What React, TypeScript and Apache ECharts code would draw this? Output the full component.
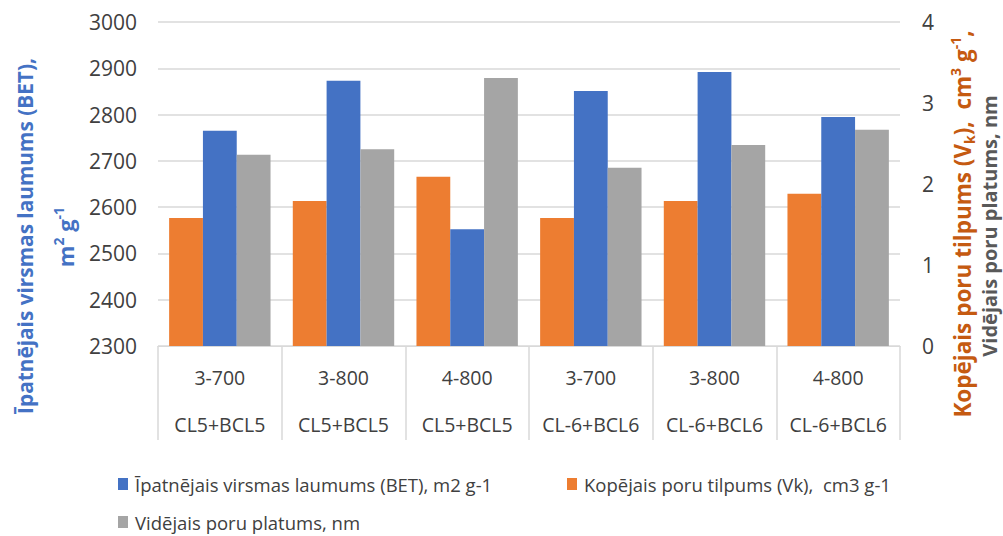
import React, { useEffect, useRef } from "react";
import * as echarts from "echarts";

const samples = ["3-700", "3-800", "4-800", "3-700", "3-800", "4-800"];
const groups = ["CL5+BCL5", "CL5+BCL5", "CL5+BCL5", "CL-6+BCL6", "CL-6+BCL6", "CL-6+BCL6"];
const betValues = [2765, 2873, 2552, 2851, 2892, 2795];
const volumeValues = [1.58, 1.79, 2.09, 1.58, 1.79, 1.88];
const widthValues = [2.36, 2.43, 3.31, 2.2, 2.48, 2.67];

const betName = "Īpatnējais virsmas laumums (BET), m2 g-1";
const volumeName = "Kopējais poru tilpums (Vk),  cm3 g-1";
const widthName = "Vidējais poru platums, nm";

const leftMin = 2300;
const leftMax = 3000;
const leftStep = 100;
const rightMin = 0;
const rightMax = 4;
const rightStep = 1;

const BLUE = "#4472C4";
const ORANGE = "#ED7D31";
const TITLE_ORANGE = "#C55A11";
const GRAY = "#A5A5A5";
const TEXT = "#404040";
const LINE = "#D9D9D9";
const FONT = "'Open Sans', sans-serif";

export default function App() {
  const ref = useRef<HTMLDivElement>(null);

  useEffect(() => {
    if (!ref.current) return;
    const chart = echarts.init(ref.current, undefined, { renderer: "svg" });
    const legendText = { color: TEXT, fontSize: 18.5, fontFamily: FONT, lineHeight: 20, padding: [0, 0, 0, 2] };
    const legendBase = { icon: "rect", itemWidth: 10, itemHeight: 12, itemGap: 0, padding: 0, textStyle: legendText };
    const bold = { fontFamily: FONT, fontWeight: "bold" as const };

    chart.setOption({
      animation: false,
      grid: { left: 158, right: 103, top: 22, bottom: 190, containLabel: false },
      legend: [
        { ...legendBase, left: 118, top: 474, data: [betName] },
        { ...legendBase, left: 567, top: 474, data: [volumeName] },
        { ...legendBase, left: 118, top: 512, data: [widthName] },
      ],
      xAxis: {
        type: "category",
        data: samples.map((s, i) => s + "|" + groups[i]),
        axisLine: { show: true, lineStyle: { color: LINE, width: 1 } },
        axisTick: { show: true, length: 94, interval: 0, lineStyle: { color: LINE, width: 1.5 } },
        axisLabel: {
          interval: 0,
          margin: 8,
          formatter: (v: string) => {
            const [a, b] = v.split("|");
            return `{a|${a}}\n{b|${b}}`;
          },
          rich: {
            a: { fontSize: 19.5, fontFamily: FONT, color: TEXT, lineHeight: 47 },
            b: { fontSize: 19.5, fontFamily: FONT, color: TEXT, lineHeight: 47 },
          },
        },
      },
      yAxis: [
        {
          type: "value",
          min: leftMin,
          max: leftMax,
          interval: leftStep,
          axisLine: { show: false },
          axisTick: { show: false },
          axisLabel: { color: TEXT, fontSize: 21, fontFamily: FONT, margin: 21, formatter: (v: number) => String(v) },
          splitLine: { show: true, lineStyle: { color: LINE, width: 1.5 } },
        },
        {
          type: "value",
          min: rightMin,
          max: rightMax,
          interval: rightStep,
          axisLine: { show: false },
          axisTick: { show: false },
          axisLabel: { color: TEXT, fontSize: 21, fontFamily: FONT, margin: 22, formatter: (v: number) => String(v) },
          splitLine: { show: false },
        },
      ],
      series: [
        {
          name: volumeName,
          type: "bar",
          yAxisIndex: 1,
          data: volumeValues,
          itemStyle: { color: ORANGE },
          barGap: "0%",
          barCategoryGap: "18%",
        },
        {
          name: betName,
          type: "bar",
          yAxisIndex: 0,
          data: betValues,
          itemStyle: { color: BLUE },
          barGap: "0%",
          barCategoryGap: "18%",
        },
        {
          name: widthName,
          type: "bar",
          yAxisIndex: 1,
          data: widthValues,
          itemStyle: { color: GRAY },
          barGap: "0%",
          barCategoryGap: "18%",
        },
      ],
      graphic: [
        {
          type: "text",
          x: 25,
          y: 236,
          rotation: Math.PI / 2,
          style: {
            text: "Īpatnējais virsmas laumums (BET),",
            ...bold,
            fontSize: 20.8,
            fill: BLUE,
            align: "center",
            verticalAlign: "middle",
          },
        },
        {
          type: "text",
          x: 65,
          y: 237,
          rotation: Math.PI / 2,
          style: {
            text: "{n|m}{s|2}{n| g}{s|-1}",
            align: "center",
            verticalAlign: "middle",
            rich: {
              n: { ...bold, fontSize: 22, fill: BLUE, color: BLUE, lineHeight: 28 },
              s: { ...bold, fontSize: 14, fill: BLUE, color: BLUE, verticalAlign: "top", lineHeight: 28 },
            },
          },
        },
        {
          type: "text",
          x: 962,
          y: 224,
          rotation: Math.PI / 2,
          style: {
            text: "{n|Kopējais poru tilpums (V}{b|k}{n|),  cm}{s|3}{n| g}{s|-1}{n|,}",
            align: "center",
            verticalAlign: "middle",
            rich: {
              n: { ...bold, fontSize: 22.5, fill: TITLE_ORANGE, color: TITLE_ORANGE, lineHeight: 28 },
              s: { ...bold, fontSize: 14, fill: TITLE_ORANGE, color: TITLE_ORANGE, verticalAlign: "top", lineHeight: 28 },
              b: { ...bold, fontSize: 14, fill: TITLE_ORANGE, color: TITLE_ORANGE, verticalAlign: "bottom", lineHeight: 28 },
            },
          },
        },
        {
          type: "text",
          x: 989,
          y: 226,
          rotation: Math.PI / 2,
          style: {
            text: "Vidējais poru platums, nm",
            ...bold,
            fontSize: 20,
            lineHeight: 20,
            fill: "#595959",
            align: "center",
            verticalAlign: "middle",
          },
        },
      ],
    });
    return () => chart.dispose();
  }, []);

  return (
    <div
      ref={ref}
      style={{ position: "fixed", left: 0, top: 0, width: 1003, height: 536, background: "#fff" }}
    />
  );
}
